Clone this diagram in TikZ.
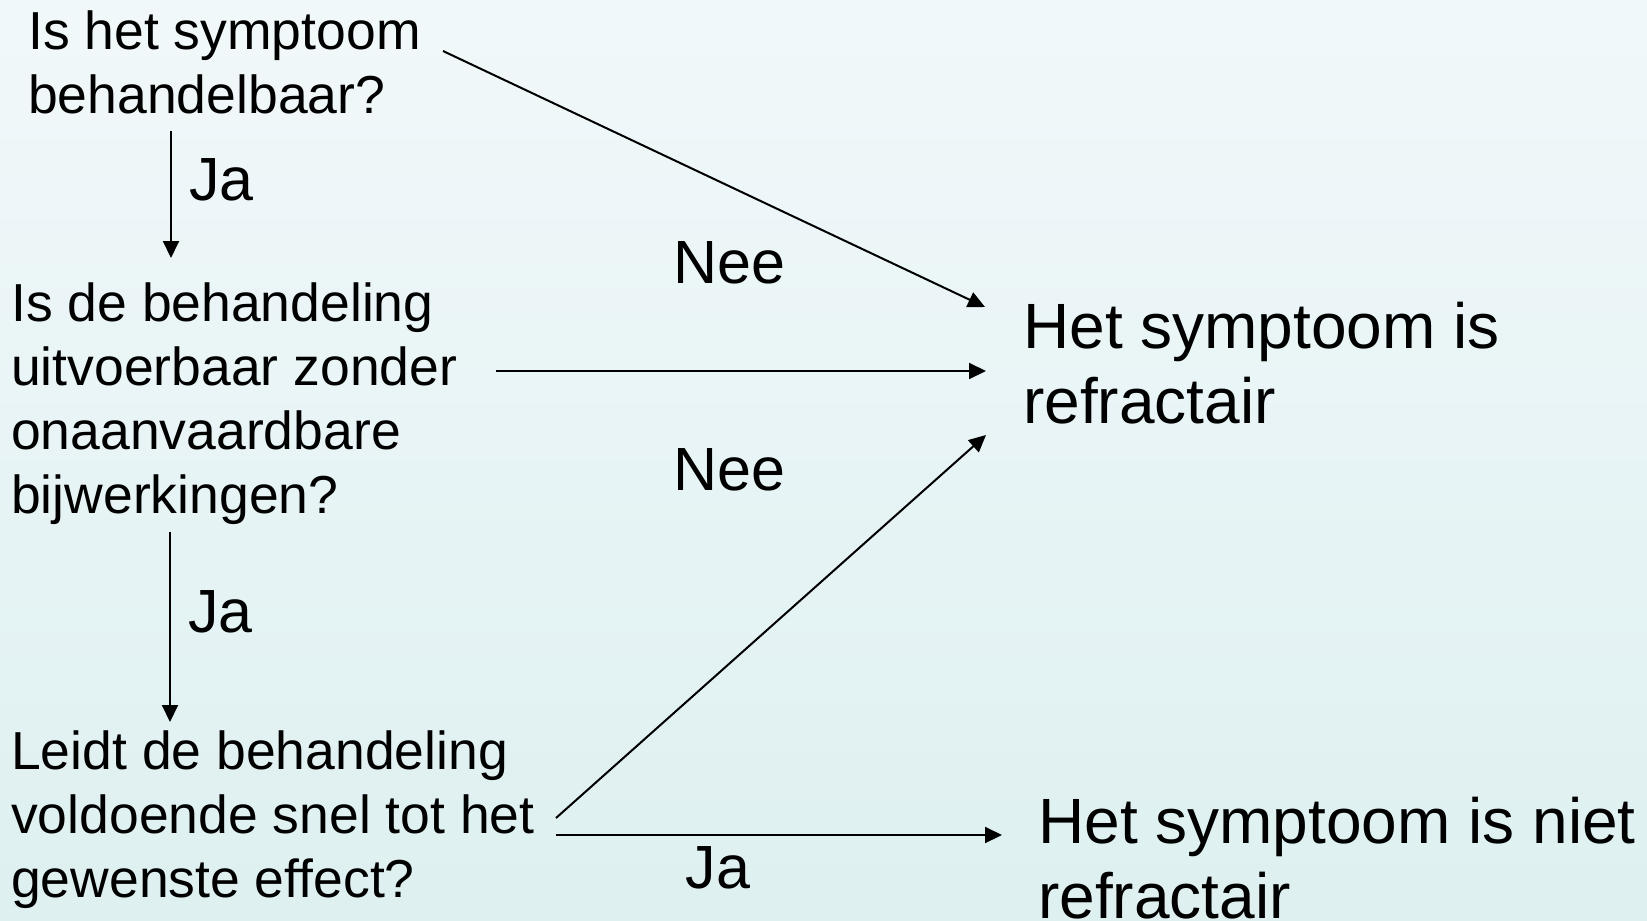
\documentclass[tikz,border=0pt]{standalone}
\usepackage{fontspec}
\setmainfont{Liberation Sans}
\usetikzlibrary{arrows.meta}
\definecolor{bgtop}{RGB}{241,248,250}
\definecolor{bgbot}{RGB}{222,240,240}
\begin{document}
\begin{tikzpicture}[x=1pt,y=1pt,
  qtext/.style={anchor=north west,inner sep=0pt,align=left,font=\fontsize{53.5}{64}\selectfont},
  rtext/.style={anchor=north west,inner sep=0pt,align=left,font=\fontsize{64}{75}\selectfont},
  lab/.style={inner sep=0pt,font=\fontsize{61}{70}\selectfont},
  arr/.style={line width=2pt,-{Triangle[length=17pt,width=16pt]}}]
\fill[top color=bgtop,bottom color=bgbot] (0,0) rectangle (1647,-921);
\useasboundingbox (0,0) rectangle (1647,-921);
\node[qtext] (q1) at (28,-10.5) {Is het symptoom\\behandelbaar?};
\node[qtext] (q2) at (11,-282.5) {Is de behandeling\\uitvoerbaar zonder\\onaanvaardbare\\bijwerkingen?};
\node[qtext] (q3) at (11,-730.5) {Leidt de behandeling\\voldoende snel tot het\\gewenste effect?};
\node[rtext] (r1) at (1023,-302) {Het symptoom is\\refractair};
\node[rtext] (r2) at (1038,-797) {Het symptoom is niet\\refractair};
\node[lab] (nee1) at (729,-263) {Nee};
\node[lab] (nee2) at (729,-470) {Nee};
\node[lab,anchor=west] (ja1) at (189,-180) {Ja};
\node[lab,anchor=west] (ja2) at (188,-612) {Ja};
\node[lab] (ja3) at (718,-868) {Ja};
\draw[arr] ([xshift=143pt,yshift=-120.5pt]q1.north west) -- ([xshift=160pt,yshift=24.5pt]q2.north west);
\draw[arr] ([xshift=159pt,yshift=-249pt]q2.north west) -- ([xshift=159pt,yshift=8.5pt]q3.north west);
\draw[arr] ([xshift=415pt,yshift=-40.5pt]q1.north west) -- ([xshift=-38pt,yshift=-5pt]r1.north west);
\draw[arr] ([xshift=485pt,yshift=-88.5pt]q2.north west) -- ([xshift=-37pt,yshift=-69pt]r1.north west);
\draw[arr] ([xshift=545pt,yshift=-87.5pt]q3.north west) -- ([xshift=-37pt,yshift=-133pt]r1.north west);
\draw[arr] ([xshift=545pt,yshift=-104.5pt]q3.north west) -- ([xshift=-36pt,yshift=-38pt]r2.north west);
\end{tikzpicture}
\end{document}
